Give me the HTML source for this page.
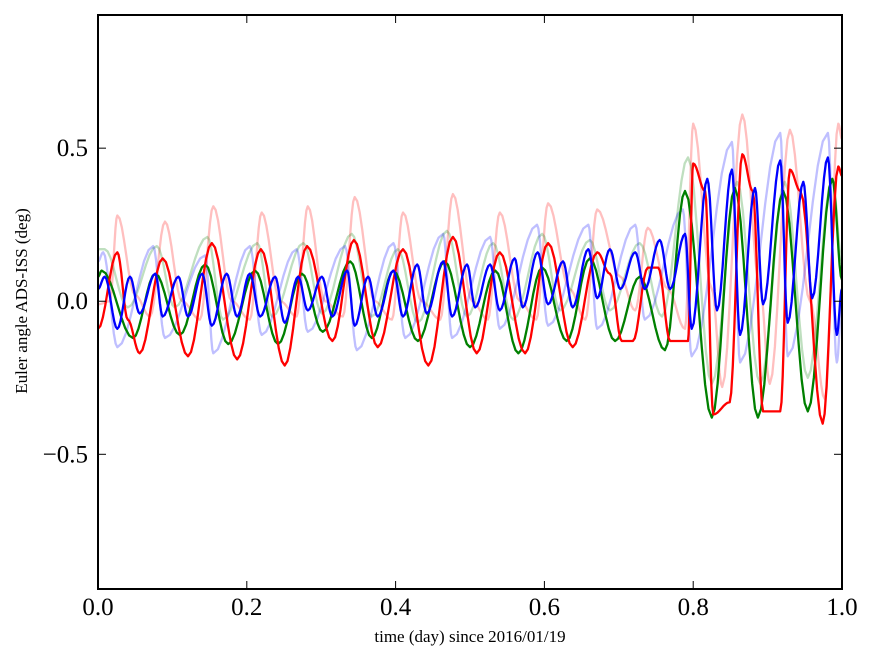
<!DOCTYPE html>
<html><head><meta charset="utf-8"><style>
body{margin:0;background:#fff;}
svg text{font-family:"Liberation Serif",serif;fill:#000;}
</style></head><body>
<svg id="chart" width="875" height="662" xmlns="http://www.w3.org/2000/svg">
<rect x="0" y="0" width="875" height="662" fill="#fff"/>
<g id="series"></g>
<rect x="98" y="15" width="744" height="574" fill="none" stroke="#000" stroke-width="2"/>
<g id="ticks"></g>
<text x="470" y="642" font-size="17" text-anchor="middle">time (day) since 2016/01/19</text>
<text transform="translate(27,301) rotate(-90)" font-size="17" text-anchor="middle">Euler angle ADS-ISS (deg)</text>
</svg>
<script>
const xTicks=[0,0.2,0.4,0.6,0.8,1.0];
const xTickLabels=["0.0","0.2","0.4","0.6","0.8","1.0"];
const yTicks=[0.5,0,-0.5];
const yTickLabels=["0.5","0.0","\u22120.5"];
// extrema (time, value) for each series
const lightRedT=[0,.016,.026,.050,.070,.090,.113,.137,.155,.180,.204,.220,.245,.267,.282,.305,.329,.345,.372,.395,.410,.435,.460,.477,.503,.524,.540,.567,.589,.605,.634,.655,.671,.702,.722,.739,.766,.789,.800,.825,.839,.866,.890,.903,.930,.957,.977,.995,1];
const lightRedV=[-.01,0,.28,.02,-.05,.26,0,-.06,.31,0,-.06,.29,0,-.05,.31,0,-.05,.34,0,-.06,.29,0,-.06,.35,0,-.06,.29,0,-.06,.32,.04,-.06,.30,.08,-.03,.24,.04,-.09,.58,.04,-.28,.61,.04,-.27,.56,0,-.32,.58,.53];
const lightGreenT=[0,.009,.040,.079,.103,.147,.168,.214,.234,.276,.301,.341,.368,.403,.430,.469,.496,.531,.558,.597,.621,.661,.688,.728,.758,.793,.825,.859,.890,.923,.954,.987,1];
const lightGreenV=[.17,.17,-.02,.18,-.02,.21,-.06,.19,-.05,.19,-.04,.22,-.05,.17,-.07,.23,-.05,.19,-.06,.22,-.03,.20,-.03,.19,-.05,.47,-.27,.39,-.27,.39,-.25,.40,.13];
const lightBlueT=[0,.007,.026,.074,.090,.144,.155,.204,.220,.267,.282,.332,.348,.397,.413,.464,.476,.527,.540,.590,.605,.659,.671,.722,.735,.786,.798,.852,.863,.917,.927,.981,.993,1];
const lightBlueV=[.13,.16,-.15,.18,-.12,.15,-.17,.18,-.11,.17,-.10,.18,-.16,.19,-.12,.22,-.12,.21,-.09,.25,-.08,.25,-.09,.25,-.06,.30,-.18,.52,-.20,.55,-.18,.55,-.20,0];
const greenT=[0,.005,.047,.077,.110,.144,.175,.211,.242,.274,.302,.339,.368,.397,.430,.466,.500,.534,.565,.597,.630,.661,.695,.728,.762,.789,.825,.856,.887,.921,.954,.987,1];
const greenV=[.08,.10,-.12,.09,-.11,.12,-.14,.10,-.14,.09,-.10,.13,-.12,.10,-.13,.13,-.15,.10,-.17,.11,-.13,.14,-.13,.08,-.16,.36,-.38,.37,-.38,.36,-.36,.40,.07];
const redT=[0,.026,.040,.056,.087,.121,.153,.187,.219,.251,.281,.315,.344,.376,.410,.444,.477,.509,.540,.574,.605,.638,.671,.688,.704,.719,.739,.753,.769,.789,.793,.800,.816,.827,.849,.866,.880,.894,.917,.930,.944,.974,.995,1];
const redV=[-.09,.16,-.06,-.17,.14,-.18,.19,-.19,.17,-.21,.18,-.13,.20,-.15,.17,-.21,.21,-.17,.16,-.17,.19,-.15,.16,.09,-.13,-.13,.11,.11,-.13,-.13,-.13,.45,.36,-.37,-.33,.48,.36,-.36,-.36,.43,.36,-.40,.44,.41];
const blueT=[0,.009,.026,.043,.056,.077,.087,.108,.121,.140,.153,.173,.187,.204,.218,.238,.251,.269,.282,.301,.315,.335,.345,.363,.376,.397,.410,.429,.442,.464,.476,.496,.507,.527,.540,.560,.571,.591,.605,.625,.638,.659,.671,.688,.702,.722,.735,.755,.769,.789,.798,.819,.832,.852,.863,.883,.894,.917,.927,.948,.960,.981,.993,1];
const blueV=[.04,.08,-.09,.08,-.04,.09,-.05,.08,-.05,.09,-.08,.09,-.05,.09,-.05,.08,-.07,.08,-.03,.08,-.05,.10,-.08,.08,-.05,.10,-.05,.12,-.04,.13,-.05,.12,-.02,.12,-.03,.14,-.02,.16,-.01,.13,-.02,.17,.01,.17,.04,.16,.04,.20,.04,.22,-.09,.40,-.03,.43,-.11,.37,-.01,.46,-.07,.39,.01,.47,-.11,.04];

const X0=98,X1=842,Y0=15,Y1=589,yMax=0.935,yMin=-0.94;
function xs(t){return X0+(X1-X0)*t;}
function ys(v){return Y0+(Y1-Y0)*(yMax-v)/(yMax-yMin);}
const NS="http://www.w3.org/2000/svg";
function buildPath(T,V){
  let d="M"+xs(T[0]).toFixed(1)+","+ys(V[0]).toFixed(1);
  for(let i=1;i<T.length;i++){
    for(let k=1;k<=8;k++){
      const s=k/8,e=(1-Math.cos(Math.PI*s))/2;
      const t=T[i-1]+(T[i]-T[i-1])*s, v=V[i-1]+(V[i]-V[i-1])*e;
      d+=" L"+xs(t).toFixed(1)+","+ys(v).toFixed(1);
    }
  }
  return d;
}
const g=document.getElementById("series");
function addLine(T,V,color,op,name){
  const p=document.createElementNS(NS,"path");
  p.setAttribute("d",buildPath(T,V));
  p.setAttribute("fill","none");
  p.setAttribute("stroke",color);
  p.setAttribute("stroke-opacity",op);
  p.setAttribute("stroke-width","2.3");
  p.setAttribute("stroke-linejoin","round");
  
  
  g.appendChild(p);
}
addLine(lightRedT,lightRedV,"#ff0000",0.25,"series-red-faint");
addLine(lightGreenT,lightGreenV,"#008000",0.25,"series-green-faint");
addLine(lightBlueT,lightBlueV,"#0000ff",0.25,"series-blue-faint");
addLine(greenT,greenV,"#008000",1,"series-green");
addLine(redT,redV,"#ff0000",1,"series-red");
addLine(blueT,blueV,"#0000ff",1,"series-blue");

const tg=document.getElementById("ticks");
function line(x1,y1,x2,y2,name){
  const l=document.createElementNS(NS,"line");
  l.setAttribute("x1",x1);l.setAttribute("y1",y1);l.setAttribute("x2",x2);l.setAttribute("y2",y2);
  l.setAttribute("stroke","#000");l.setAttribute("stroke-width","1");
  
  
  tg.appendChild(l);
}
function text(x,y,s,anchor,name){
  const t=document.createElementNS(NS,"text");
  t.setAttribute("x",x);t.setAttribute("y",y);t.setAttribute("font-size","25");
  t.setAttribute("text-anchor",anchor);t.textContent=s;
  
  
  tg.appendChild(t);
}
xTicks.forEach((t,i)=>{
  const x=xs(t);
  line(x,Y1,x,Y1-8,"x-tick");
  line(x,Y0,x,Y0+8,"x-tick-top");
  text(x,615,xTickLabels[i],"middle","x-tick-label");
});
yTicks.forEach((v,i)=>{
  const y=ys(v);
  line(X0,y,X0+8,y,"y-tick");
  line(X1,y,X1-8,y,"y-tick-right");
  text(88,y+8,yTickLabels[i],"end","y-tick-label");
});
</script>
</body></html>
